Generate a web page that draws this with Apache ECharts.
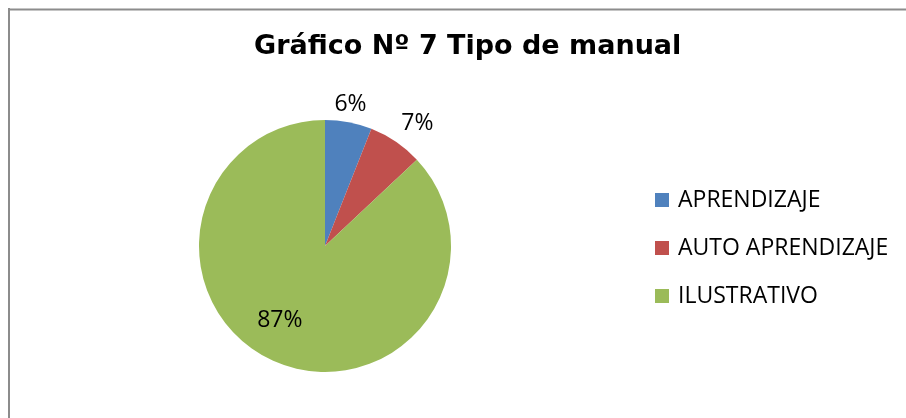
<!DOCTYPE html>
<html>
<head>
<meta charset="utf-8">
<script src="https://cdn.jsdelivr.net/npm/echarts@6/dist/echarts.min.js"></script>
<style>
  html, body { margin: 0; padding: 0; background: #fff; }
  #main { width: 906px; height: 418px; }
</style>
</head>
<body>
<div id="main"></div>
<script>
var categories = ['APRENDIZAJE', 'AUTO APRENDIZAJE', 'ILUSTRATIVO'];
var values = [6, 7, 87];
var colors = ['#4F81BD', '#C0504D', '#9BBB59'];
var labelPos = ['outside', 'outside', 'inside'];
// small nudges so labels sit where the original ones are
var labelShift = [[-22, -3], [-8, -6], [-19, 14]];

var myChart = echarts.init(document.getElementById('main'));

var data = categories.map(function (name, i) {
    return {
        name: name,
        value: values[i],
        itemStyle: { color: colors[i] },
        label: { position: labelPos[i] }
    };
});

var option = {
    backgroundColor: '#ffffff',
    animation: false,
    title: {
        text: 'Gráfico Nº 7 Tipo de manual',
        left: 249,
        top: 28,
        textStyle: {
            fontFamily: 'DejaVu Sans',
            fontWeight: 'bold',
            fontSize: 27,
            color: '#000'
        }
    },
    legend: {
        orient: 'vertical',
        left: 650,
        top: 183,
        itemWidth: 14,
        itemHeight: 14,
        itemGap: 24,
        icon: 'rect',
        data: categories,
        textStyle: {
            fontFamily: 'Open Sans',
            fontSize: 23,
            lineHeight: 24,
            color: '#000',
            padding: [0, 0, 0, 4]
        }
    },
    graphic: [
        { type: 'line', shape: { x1: 8, y1: 9.5, x2: 906, y2: 9.5 }, style: { stroke: '#8c8c8c', lineWidth: 2 } },
        { type: 'line', shape: { x1: 9, y1: 8, x2: 9, y2: 418 }, style: { stroke: '#8c8c8c', lineWidth: 2 } }
    ],
    series: [
        {
            name: 'Tipo de manual',
            type: 'pie',
            center: [325, 246],
            radius: 126,
            startAngle: 90,
            clockwise: true,
            avoidLabelOverlap: false,
            data: data,
            label: {
                show: true,
                formatter: '{d}%',
                fontFamily: 'Open Sans',
                fontSize: 23,
                color: '#000'
            },
            labelLine: { show: false, length: 15, length2: 0 },
            labelLayout: function (params) {
                var s = labelShift[params.dataIndex];
                return { dx: s[0], dy: s[1] };
            }
        }
    ]
};

myChart.setOption(option);
</script>
</body>
</html>
